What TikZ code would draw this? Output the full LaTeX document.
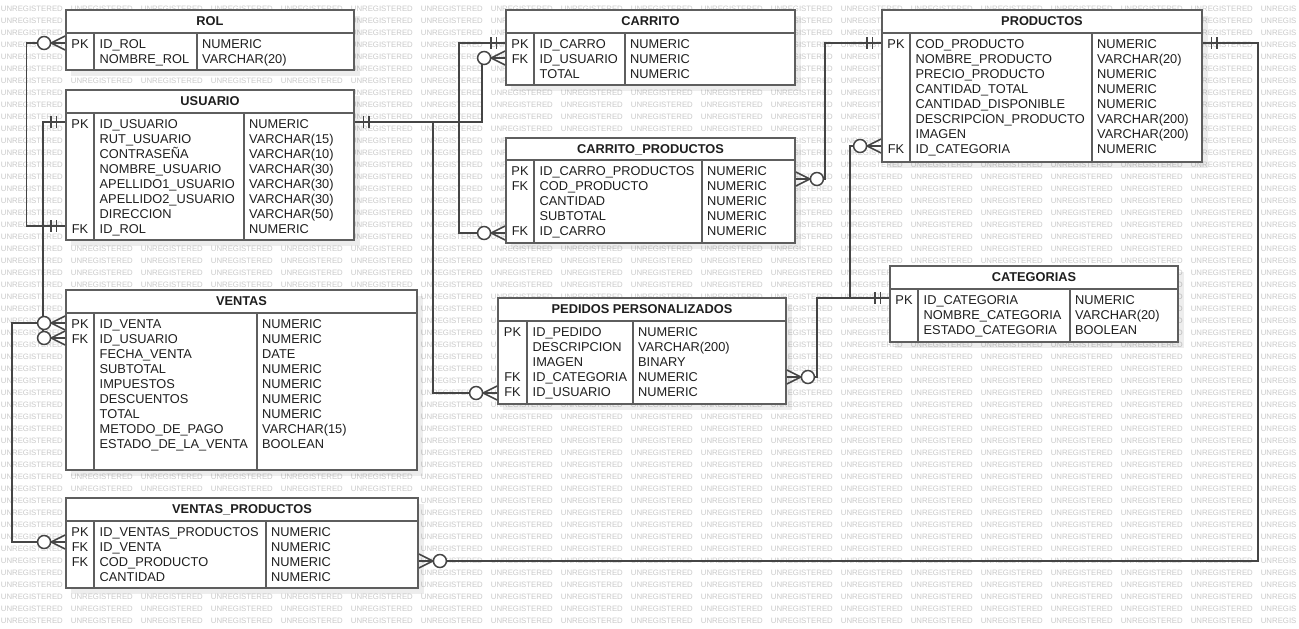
\documentclass[tikz,border=0pt]{standalone}
\usepackage{fontspec}
\setmainfont{Liberation Sans}
\usetikzlibrary{fit}
\definecolor{bordc}{HTML}{5E5E5E}
\definecolor{linec}{HTML}{454545}
\definecolor{txtc}{HTML}{1E1E1E}
\definecolor{wmc}{HTML}{CACACA}
\tikzset{
  tablebox/.style={draw=bordc, line width=1.8pt, fill=white, inner sep=0pt},
  sepline/.style={draw=bordc, line width=1.3pt},
  celltext/.style={font=\fontsize{12.8}{15}\selectfont, text=txtc, inner sep=0pt, anchor=base west},
  titletext/.style={font=\fontsize{12.8}{15}\selectfont\bfseries, text=txtc, inner sep=0pt, anchor=base},
  conn/.style={draw=linec, line width=1.5pt},
  wmtext/.style={font=\fontsize{7.8}{9}\selectfont, text=wmc, inner sep=0pt, anchor=base west},
}
\newcommand{\wmone}{\makebox[70pt][l]{UNREGISTERED}}
\newcommand{\wmrow}{\wmone\wmone\wmone\wmone\wmone\wmone\wmone\wmone\wmone\wmone\wmone\wmone\wmone\wmone\wmone\wmone\wmone\wmone UNREGIS}
% #1 name, #2 left, #3 top, #4 right, #5 header bottom, #6 bottom, #7 div1, #8 div2, #9 title
\newcommand{\ertab}[9]{%
  \fill[black, opacity=0.07] ({#2+5},{#3+6}) rectangle ({#4+6},{#6+6});
  \node[tablebox, fit={(#2,#3) (#4,#6)}] (#1) {};
  \draw[sepline] (#2,#5) -- (#4,#5) (#7,#5) -- (#7,#6) (#8,#5) -- (#8,#6);
  \node[titletext] (#1-title) at ({(#2+#4)/2},{#3+15.7}) {#9};
}
% #1 name, #2 left, #3 div1, #4 div2, #5 header bottom, #6 rows
\newcommand{\errows}[6]{%
  \foreach \ky/\fd/\ty [count=\i] in {#6} {
    \node[celltext, anchor=base] (#1-k\i) at ({(#2+#3)/2},{#5+15.3+15*(\i-1)}) {\ky};
    \node[celltext] (#1-f\i) at ({#3+5.5},{#5+15.3+15*(\i-1)}) {\fd};
    \node[celltext] (#1-t\i) at ({#4+5},{#5+15.3+15*(\i-1)}) {\ty};
  }
}
\newcommand{\onemark}[2]{%
  \begin{scope}[shift={(#1)}, xscale=#2]
    \draw[conn] (8.5,-6) -- (8.5,6) (14,-6) -- (14,6);
  \end{scope}}
\newcommand{\manymark}[2]{%
  \begin{scope}[shift={(#1)}, xscale=#2]
    \draw[conn] (0,-7) -- (14,0) -- (0,7) (0,0) -- (14,0);
    \draw[conn, fill=white] (21,0) circle[radius=6.5pt];
  \end{scope}}
\begin{document}
\begin{tikzpicture}[x=1pt, y=-1pt, line join=miter]
\useasboundingbox (0,0) rectangle (1299,629);
\fill[white] (0,0) rectangle (1299,629);
\foreach \r in {0,...,51} \node[wmtext] (wm\r) at (0.7,{11.3+12*\r}) {\wmrow};

% tables
\ertab{rol}{66}{10}{354}{33}{70}{94}{197}{ROL}
\errows{rol}{66}{94}{197}{33}{PK/ID\_ROL/NUMERIC, /NOMBRE\_ROL/VARCHAR(20)}

\ertab{usuario}{66}{90}{354}{113}{240}{94}{244}{USUARIO}
\errows{usuario}{66}{94}{244}{113}{PK/ID\_USUARIO/NUMERIC, /RUT\_USUARIO/VARCHAR(15), /CONTRASEÑA/VARCHAR(10), /NOMBRE\_USUARIO/VARCHAR(30), /APELLIDO1\_USUARIO/VARCHAR(30), /APELLIDO2\_USUARIO/VARCHAR(30), /DIRECCION/VARCHAR(50), FK/ID\_ROL/NUMERIC}

\ertab{carrito}{506}{10}{795}{33}{85}{534}{625}{CARRITO}
\errows{carrito}{506}{534}{625}{33}{PK/ID\_CARRO/NUMERIC, FK/ID\_USUARIO/NUMERIC, /TOTAL/NUMERIC}

\ertab{cp}{506}{138}{795}{160}{243}{534}{702}{CARRITO\_PRODUCTOS}
\errows{cp}{506}{534}{702}{160}{PK/ID\_CARRO\_PRODUCTOS/NUMERIC, FK/COD\_PRODUCTO/NUMERIC, /CANTIDAD/NUMERIC, /SUBTOTAL/NUMERIC, FK/ID\_CARRO/NUMERIC}

\ertab{productos}{882}{10}{1202}{33}{162}{910}{1092}{PRODUCTOS}
\errows{productos}{882}{910}{1092}{33}{PK/COD\_PRODUCTO/NUMERIC, /NOMBRE\_PRODUCTO/VARCHAR(20), /PRECIO\_PRODUCTO/NUMERIC, /CANTIDAD\_TOTAL/NUMERIC, /CANTIDAD\_DISPONIBLE/NUMERIC, /DESCRIPCION\_PRODUCTO/VARCHAR(200), /IMAGEN/VARCHAR(200), FK/ID\_CATEGORIA/NUMERIC}

\ertab{categorias}{890}{266}{1178}{289}{342}{918}{1070}{CATEGORIAS}
\errows{categorias}{890}{918}{1070}{289}{PK/ID\_CATEGORIA/NUMERIC, /NOMBRE\_CATEGORIA/VARCHAR(20), /ESTADO\_CATEGORIA/BOOLEAN}

\ertab{pedidos}{498}{298}{786}{321}{404}{527}{633}{PEDIDOS PERSONALIZADOS}
\errows{pedidos}{498}{527}{633}{321}{PK/ID\_PEDIDO/NUMERIC, /DESCRIPCION/VARCHAR(200), /IMAGEN/BINARY, FK/ID\_CATEGORIA/NUMERIC, FK/ID\_USUARIO/NUMERIC}

\ertab{ventas}{66}{290}{417}{313}{470}{94}{257}{VENTAS}
\errows{ventas}{66}{94}{257}{313}{PK/ID\_VENTA/NUMERIC, FK/ID\_USUARIO/NUMERIC, /FECHA\_VENTA/DATE, /SUBTOTAL/NUMERIC, /IMPUESTOS/NUMERIC, /DESCUENTOS/NUMERIC, /TOTAL/NUMERIC, /METODO\_DE\_PAGO/VARCHAR(15), /ESTADO\_DE\_LA\_VENTA/BOOLEAN}

\ertab{vp}{66}{498}{418}{521}{588}{94}{266}{VENTAS\_PRODUCTOS}
\errows{vp}{66}{94}{266}{521}{PK/ID\_VENTAS\_PRODUCTOS/NUMERIC, FK/ID\_VENTA/NUMERIC, FK/COD\_PRODUCTO/NUMERIC, /CANTIDAD/NUMERIC}

% connector end points
\coordinate (rolA) at (rol.west |- 0,43);
\coordinate (usuRol) at (usuario.west |- 0,226);
\coordinate (usuPkL) at (usuario.west |- 0,122);
\coordinate (usuPkR) at (usuario.east |- 0,122);
\coordinate (venFk) at (ventas.west |- 0,338);
\coordinate (venPk) at (ventas.west |- 0,323);
\coordinate (vpVenta) at (vp.west |- 0,542);
\coordinate (carFk) at (carrito.west |- 0,58);
\coordinate (carPk) at (carrito.west |- 0,43);
\coordinate (pedUsu) at (pedidos.west |- 0,393);
\coordinate (cpCarro) at (cp.west |- 0,233);
\coordinate (cpProd) at (cp.east |- 0,179);
\coordinate (proPkL) at (productos.west |- 0,43);
\coordinate (proPkR) at (productos.east |- 0,43);
\coordinate (proCat) at (productos.west |- 0,146);
\coordinate (catPk) at (categorias.west |- 0,298);
\coordinate (pedCat) at (pedidos.east |- 0,377);
\coordinate (vpProd) at (vp.east |- 0,561);

% connectors
\draw[conn] (rolA) -- (26.5,43) -- (26.5,226) -- (usuRol);
\draw[conn] (usuPkL) -- (43,122) -- (43,338) -- (venFk);
\draw[conn] (venPk) -- (12,323) -- (12,542) -- (vpVenta);
\draw[conn] (usuPkR) -- (482,122) -- (482,58) -- (carFk);
\draw[conn] (usuPkR) -- (433,122) -- (433,393) -- (pedUsu);
\draw[conn] (carPk) -- (459,43) -- (459,233) -- (cpCarro);
\draw[conn] (proPkL) -- (825,43) -- (825,179) -- (cpProd);
\draw[conn] (proCat) -- (850,146) -- (850,298) -- (catPk);
\draw[conn] (pedCat) -- (817,377) -- (817,298) -- (catPk);
\draw[conn] (proPkR) -- (1258,43) -- (1258,561) -- (vpProd);

% end marks
\manymark{rolA}{-1}
\onemark{usuRol}{-1}
\onemark{usuPkL}{-1}
\onemark{usuPkR}{1}
\manymark{venPk}{-1}
\manymark{venFk}{-1}
\manymark{vpVenta}{-1}
\manymark{carFk}{-1}
\onemark{carPk}{-1}
\manymark{pedUsu}{-1}
\manymark{cpCarro}{-1}
\manymark{cpProd}{1}
\onemark{proPkL}{-1}
\onemark{proPkR}{1}
\manymark{proCat}{-1}
\onemark{catPk}{-1}
\manymark{pedCat}{1}
\manymark{vpProd}{1}
\end{tikzpicture}
\end{document}
